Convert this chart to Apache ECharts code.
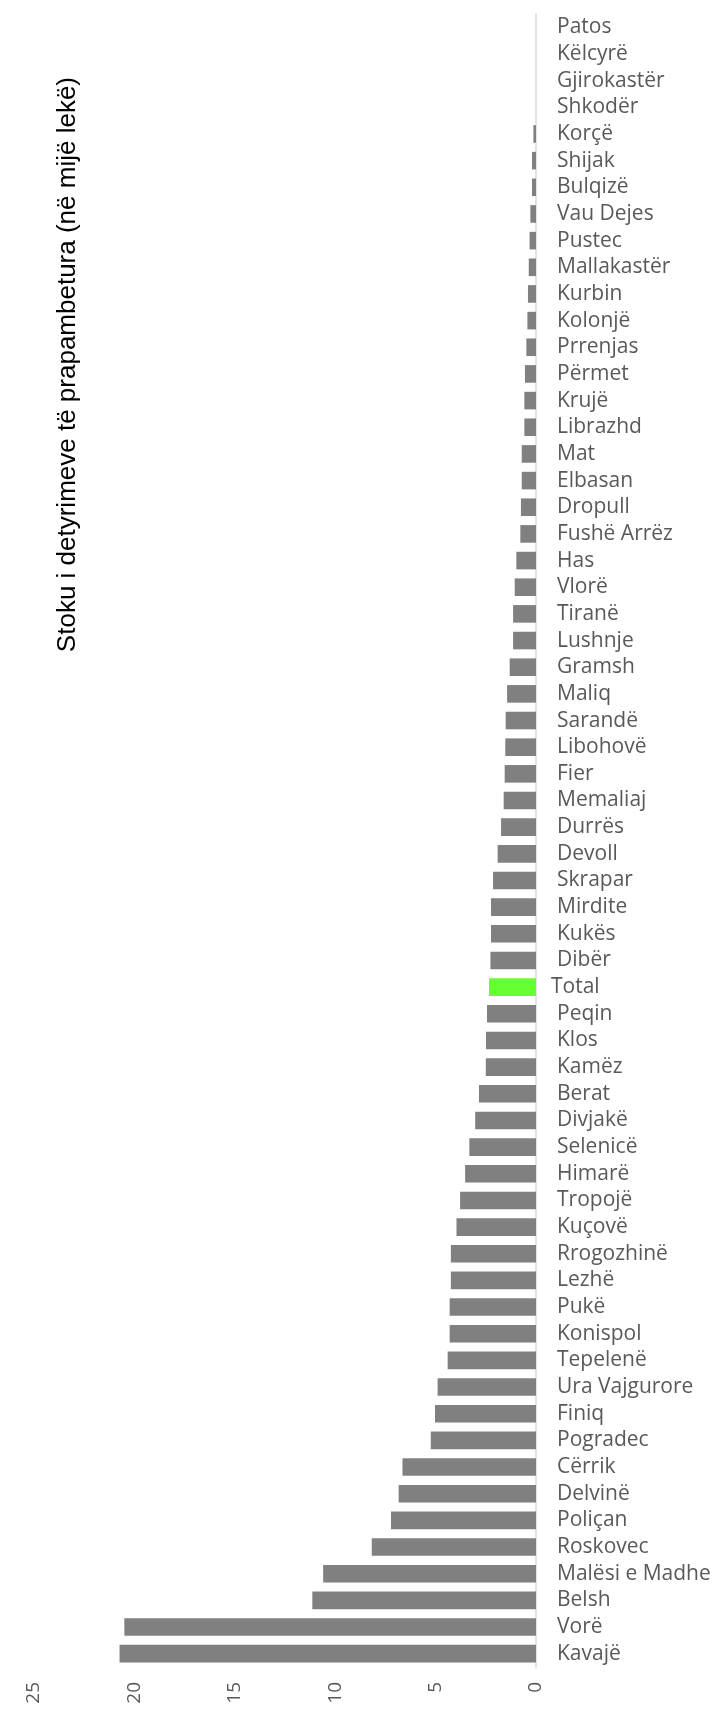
<!DOCTYPE html>
<html>
<head>
<meta charset="utf-8">
<script src="https://cdn.jsdelivr.net/npm/echarts@6/dist/echarts.min.js"></script>
<style>
  html, body { margin: 0; padding: 0; background: #fff; }
  #chart { width: 718px; height: 1713px; }
</style>
</head>
<body>
<div id="chart"></div>
<script>
// bashkite, nga lart poshte
const categories = [
  'Patos', 'Këlcyrë', 'Gjirokastër', 'Shkodër', 'Korçë', 'Shijak', 'Bulqizë', 'Vau Dejes',
  'Pustec', 'Mallakastër', 'Kurbin', 'Kolonjë', 'Prrenjas', 'Përmet', 'Krujë', 'Librazhd',
  'Mat', 'Elbasan', 'Dropull', 'Fushë Arrëz', 'Has', 'Vlorë', 'Tiranë', 'Lushnje',
  'Gramsh', 'Maliq', 'Sarandë', 'Libohovë', 'Fier', 'Memaliaj', 'Durrës', 'Devoll',
  'Skrapar', 'Mirdite', 'Kukës', 'Dibër', 'Total', 'Peqin', 'Klos', 'Kamëz',
  'Berat', 'Divjakë', 'Selenicë', 'Himarë', 'Tropojë', 'Kuçovë', 'Rrogozhinë', 'Lezhë',
  'Pukë', 'Konispol', 'Tepelenë', 'Ura Vajgurore', 'Finiq', 'Pogradec', 'Cërrik', 'Delvinë',
  'Poliçan', 'Roskovec', 'Malësi e Madhe', 'Belsh', 'Vorë', 'Kavajë'
]
// stoku (ne mije leke)
const values = [
  0, 0, 0, 0, 0.13, 0.2, 0.2, 0.28,
  0.32, 0.36, 0.4, 0.43, 0.48, 0.55, 0.58, 0.58,
  0.71, 0.71, 0.75, 0.78, 0.98, 1.06, 1.14, 1.14,
  1.31, 1.44, 1.51, 1.53, 1.56, 1.61, 1.74, 1.91,
  2.14, 2.24, 2.24, 2.27, 2.34, 2.44, 2.49, 2.5,
  2.84, 3.03, 3.32, 3.53, 3.78, 3.96, 4.24, 4.24,
  4.3, 4.3, 4.4, 4.9, 5.03, 5.24, 6.65, 6.84,
  7.22, 8.18, 10.6, 11.14, 20.5, 20.74
]
const xTicks = [0, 5, 10, 15, 20, 25]
const highlightName = 'Total'

const chart = echarts.init(document.getElementById('chart'))
const seriesData = values.map((v, i) => ({
  value: v,
  itemStyle: { color: categories[i] === highlightName ? '#66ff33' : '#808080' }
}))

chart.setOption({
  animation: false,
  grid: { left: 34, right: 182, top: 14, bottom: 46 },
  xAxis: {
    type: 'value',
    inverse: true,
    min: xTicks[0],
    max: xTicks[xTicks.length - 1],
    interval: 5,
    axisLine: { show: false },
    axisTick: { show: false },
    splitLine: { show: false },
    axisLabel: {
      rotate: 90,
      margin: 15,
      color: '#595959',
      fontFamily: 'Open Sans',
      fontSize: 19
    }
  },
  yAxis: {
    type: 'category',
    data: categories,
    inverse: true,
    position: 'right',
    axisLine: { lineStyle: { color: '#d9d9d9', width: 1.5 } },
    axisTick: { show: false },
    axisLabel: {
      interval: 0,
      margin: 15,
      color: '#595959',
      fontFamily: 'Open Sans',
      fontSize: 21,
      // Total sits a bit further left than the others
      formatter: v => v === highlightName ? v : '{p|' + v + '}',
      rich: {
        p: { padding: [0, 0, 0, 6], color: '#595959', fontFamily: 'Open Sans', fontSize: 21 }
      }
    }
  },
  series: [{
    type: 'bar',
    data: seriesData,
    barCategoryGap: '34%'
  }],
  graphic: [{
    type: 'text',
    left: 55,
    top: 77,
    rotation: Math.PI / 2,
    originX: 0,
    originY: 0,
    style: {
      text: 'Stoku i detyrimeve të prapambetura (në mijë lekë)',
      font: '26px "Liberation Sans"',
      fill: '#000'
    }
  }]
})
</script>
</body>
</html>
